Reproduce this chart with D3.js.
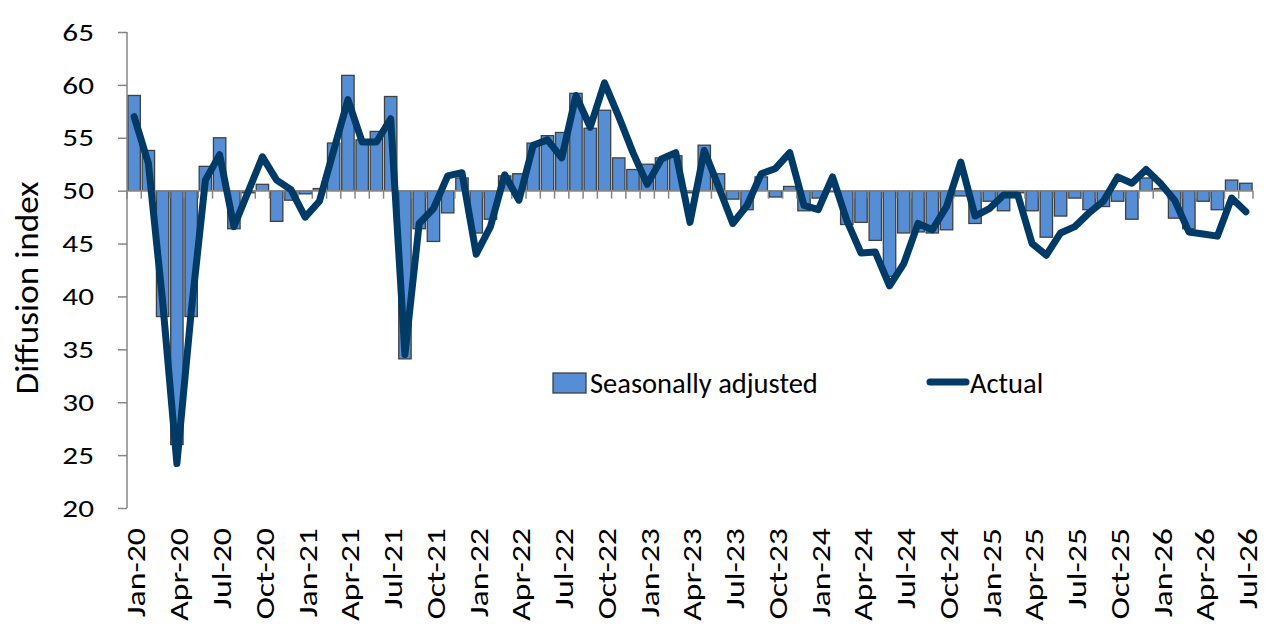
<!DOCTYPE html>
<html>
<head>
<meta charset="utf-8">
<script src="https://cdn.jsdelivr.net/npm/d3@7"></script>
<style>
  html, body { margin: 0; padding: 0; background: #fff; }
  svg { display: block; }
  text { font-family: Carlito, Calibri, Lato, sans-serif; fill: #000; }
</style>
</head>
<body>
<svg id="chart" width="1272" height="631"></svg>
<script>
// monthly survey, Jan-20 .. Jul-26
const months = d3.utcMonths(new Date(Date.UTC(2020, 0, 1)), new Date(Date.UTC(2026, 7, 1)));
const fmt = d3.utcFormat('%b-%y');
const categories = months.map(fmt);

const seasonal = [
  59.0, 53.8, 38.1, 26.0, 38.1, 52.3, 55.0, 46.4, 49.8, 50.6, 47.1, 49.1,
  49.7, 50.2, 54.5, 60.9, 54.8, 55.6, 58.9, 34.1, 46.4, 45.2, 47.9, 51.2,
  46.0, 47.3, 51.4, 51.6, 54.5, 55.2, 55.5, 59.2, 55.9, 57.6, 53.1, 52.0,
  52.5, 53.1, 53.3, 49.8, 54.3, 51.6, 49.2, 48.2, 51.3, 49.4, 50.4, 48.1,
  49.3, 49.9, 46.8, 47.0, 45.3, 41.9, 46.0, 46.1, 46.0, 46.3, 49.5, 46.9,
  49.0, 48.1, 49.8, 48.1, 45.6, 47.6, 49.3, 48.2, 48.5, 49.0, 47.3, 51.2,
  50.2, 47.4, 46.4, 49.0, 48.2, 51.0, 50.7
];
const actual = [
  57.0, 52.6, 39.5, 24.2, 38.5, 51.0, 53.4, 46.6, 49.9, 53.2, 51.0, 50.1,
  47.5, 49.0, 53.8, 58.6, 54.6, 54.6, 56.8, 34.5, 46.9, 48.3, 51.4, 51.7,
  44.0, 46.6, 51.5, 49.1, 54.3, 54.8, 53.1, 59.0, 56.0, 60.2, 57.0, 53.6,
  50.6, 53.0, 53.6, 47.0, 53.8, 50.4, 46.9, 48.6, 51.6, 52.1, 53.6, 48.6,
  48.2, 51.3, 47.2, 44.1, 44.2, 41.0, 43.1, 46.9, 46.3, 48.5, 52.7, 47.6,
  48.3, 49.6, 49.6, 45.0, 43.9, 46.0, 46.6, 47.9, 49.0, 51.3, 50.7, 52.0,
  50.7, 49.1, 46.1, 45.9, 45.7, 49.3, 48.0
];
const yTicks = [20, 25, 30, 35, 40, 45, 50, 55, 60, 65];
const xTickLabels = categories.filter((d, i) => i % 3 === 0);
const BASE = 50;

const BAR = '#558ed5', BAR_EDGE = '#404040', LINE = '#003a66', AXIS = '#868686';
const L = 127, R = 1253, T = 32, B = 508;
// the original face is wider than anything installed, so stretch along the text
const WIDE = 1.3;

const svg = d3.select('#chart');
const x = d3.scaleBand().domain(categories).range([L, R]).paddingInner(0.13).paddingOuter(0.065);
const y = d3.scaleLinear().domain([20, 65]).range([B, T]);
const step = x.step();

// bars hang from the 50 line
svg.append('g').selectAll('rect').data(seasonal).join('rect')
  .attr('x', (d, i) => x(categories[i]))
  .attr('width', x.bandwidth())
  .attr('y', d => y(Math.max(d, BASE)))
  .attr('height', d => Math.abs(y(d) - y(BASE)))
  .attr('fill', BAR).attr('stroke', BAR_EDGE).attr('stroke-width', 1.3);

// y axis
const yAxis = svg.append('g').attr('transform', `translate(${L},0)`)
  .call(d3.axisLeft(y).tickValues(yTicks).tickSize(9).tickFormat(''));
yAxis.select('.domain').attr('stroke', AXIS).attr('stroke-width', 1.5).attr('d', `M0,${B}V${T}`);
yAxis.selectAll('.tick line').attr('stroke', AXIS).attr('stroke-width', 1.5);
svg.append('g').selectAll('text').data(yTicks).join('text')
  .attr('transform', d => `translate(94,${y(d)}) scale(${WIDE},1)`)
  .attr('text-anchor', 'end').attr('dy', '0.36em').attr('font-size', 24).text(d => d);

// category axis sits on the 50 line, ticks between months
const gx = svg.append('g');
gx.append('line').attr('x1', L).attr('x2', R).attr('y1', y(BASE)).attr('y2', y(BASE))
  .attr('stroke', AXIS).attr('stroke-width', 1.5);
gx.selectAll('line.tk').data(d3.range(categories.length + 1)).join('line').attr('class', 'tk')
  .attr('x1', i => L + i * step).attr('x2', i => L + i * step)
  .attr('y1', y(BASE)).attr('y2', y(BASE) + 8)
  .attr('stroke', AXIS).attr('stroke-width', 1.5);

// rotated month labels along the bottom
svg.append('g').selectAll('text').data(xTickLabels).join('text')
  .attr('transform', d => `translate(${x(d) + x.bandwidth() / 2 + 2},528) rotate(-90) scale(${WIDE},1)`)
  .attr('text-anchor', 'end').attr('dy', '0.36em').attr('font-size', 26).text(d => d);

// actual line
const line = d3.line().x((d, i) => x(categories[i]) + x.bandwidth() / 2).y(d => y(d));
svg.append('path').datum(actual).attr('d', line)
  .attr('fill', 'none').attr('stroke', LINE).attr('stroke-width', 7)
  .attr('stroke-linejoin', 'round').attr('stroke-linecap', 'round');

// y title
svg.append('text').attr('transform', 'translate(26,288) rotate(-90) scale(1.1,1)')
  .attr('text-anchor', 'middle').attr('dy', '0.36em').attr('font-size', 32).text('Diffusion index');

// legend
const lg = svg.append('g');
lg.append('rect').attr('x', 553).attr('y', 373).attr('width', 33).attr('height', 20)
  .attr('fill', BAR).attr('stroke', BAR_EDGE).attr('stroke-width', 1.3);
lg.append('text').attr('x', 590).attr('y', 393).attr('font-size', 28.5).text('Seasonally adjusted');
lg.append('line').attr('x1', 930).attr('x2', 966).attr('y1', 382).attr('y2', 382)
  .attr('stroke', LINE).attr('stroke-width', 7).attr('stroke-linecap', 'round');
lg.append('text').attr('x', 970).attr('y', 393).attr('font-size', 28.5).text('Actual');
</script>
</body>
</html>
